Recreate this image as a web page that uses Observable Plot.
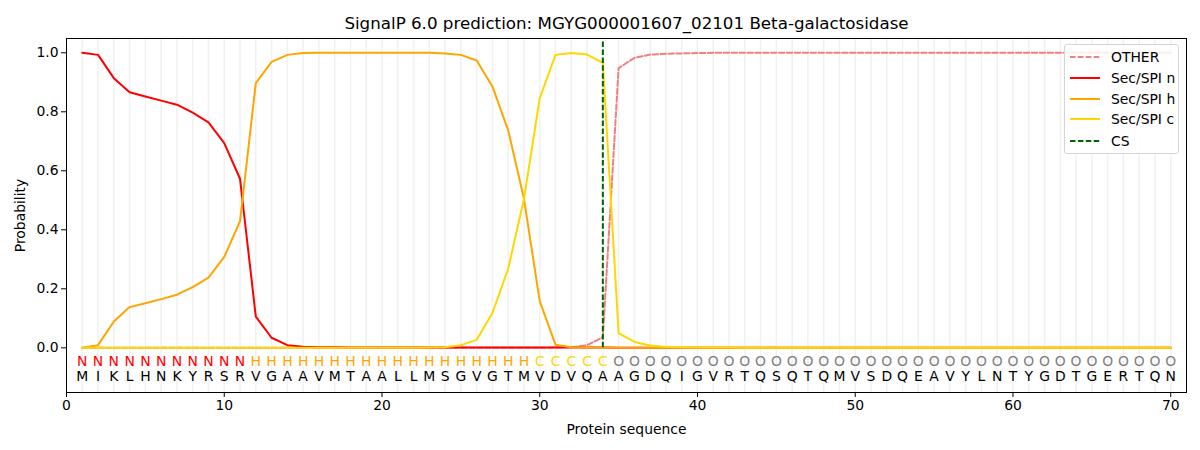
<!DOCTYPE html>
<html>
<head>
<meta charset="utf-8">
<script src="https://cdn.jsdelivr.net/npm/d3@7"></script>
<script src="https://cdn.jsdelivr.net/npm/@observablehq/plot@0.6"></script>
<style>
  body { margin: 0; background: white; font-family: "DejaVu Sans", sans-serif; }
  #wrap { position: relative; width: 1200px; height: 450px; }
  #legend { position: absolute; left: 1064px; top: 44px; width: 113px; height: 108px;
    border: 1px solid #d5d5d5; border-radius: 3px; background: rgba(255,255,255,0.85); }
  .lrow { position: absolute; left: 0; height: 20px; display: flex; align-items: center; font-size: 13.9px; color: black; }
  .lrow svg { margin-left: 5px; margin-right: 11px; }
</style>
</head>
<body>
<div id="wrap"></div>
<script>
const title = "SignalP 6.0 prediction: MGYG000001607_02101 Beta-galactosidase";
const residues = "MIKLHNKYRSRVGAAVMTAALLMSGVGTMVDVQAAGDQIGVRTQSQTQMVSDQEAVYLNTYGDTGERTQN".split("");
const regions = ("N".repeat(11) + "H".repeat(18) + "C".repeat(5) + "O".repeat(36)).split("");
const positions = d3.range(1, 71);

const other = [0,0,0,0,0,0,0,0,0,0, 0,0,0,0,0,0,0,0,0,0, 0,0,0,0,0,0,0,0,0,0,
  0.001,0.002,0.009,0.036,0.948,0.983,0.994,0.997,0.998,0.999,
  1,1,1,1,1,1,1,1,1,1, 1,1,1,1,1,1,1,1,1,1, 1,1,1,1,1,1,1,1,1,1];
const secN = [1.0,0.993,0.914,0.866,0.852,0.838,0.824,0.797,0.764,0.694,
  0.573,0.106,0.034,0.009,0.004,0.002,0.002,0.001,0.001,0.001,
  0.001,0.001,0.001,0.001,0.001,0.001,0.001,0.001,0.001,0.001,
  0.001,0.001,0.001,0.001,0,0,0,0,0,0, 0,0,0,0,0,0,0,0,0,0, 0,0,0,0,0,0,0,0,0,0, 0,0,0,0,0,0,0,0,0,0];
const secH = [0,0.009,0.089,0.138,0.151,0.165,0.18,0.206,0.238,0.308,
  0.429,0.897,0.969,0.993,0.999,1.0,1.0,1.0,1.0,1.0,
  1.0,1.0,1.0,0.998,0.993,0.974,0.886,0.737,0.505,0.158,
  0.01,0.002,0.001,0.001,0,0,0,0,0,0, 0,0,0,0,0,0,0,0,0,0, 0,0,0,0,0,0,0,0,0,0, 0,0,0,0,0,0,0,0,0,0];
const secC = [0,0,0,0,0,0,0,0,0,0, 0,0,0,0,0,0,0,0,0,0,
  0,0,0.001,0.002,0.009,0.027,0.118,0.268,0.505,0.846,
  0.993,0.999,0.994,0.966,0.05,0.02,0.008,0.003,0.002,0.001,
  0.001,0.001,0,0,0,0,0,0,0,0, 0,0,0,0,0,0,0,0,0,0, 0,0,0,0,0,0,0,0,0,0];
const csPos = [34];
const xTicks = [0,10,20,30,40,50,60,70];
const yTicks = [0,0.2,0.4,0.6,0.8,1.0];

const seriesNames = ["OTHER","Sec/SPI n","Sec/SPI h","Sec/SPI c","CS"];
const seriesColors = ["#f08080","#ff0000","#ffa500","#ffd700","#006400"];
const seriesDashed = [true,false,false,false,true];
const regionColors = {N:"#ff0000", H:"#ffa500", C:"#ffd700", O:"#808080"};

const font = "DejaVu Sans";
const line = (vals, i) => Plot.lineY(vals, {x: (d, j) => positions[j], y: d => d,
  stroke: seriesColors[i], strokeWidth: 2, strokeDasharray: seriesDashed[i] ? "5.5,2.4" : null});

const chart = Plot.plot({
  width: 1200, height: 450,
  marginLeft: 66, marginRight: 14, marginTop: 38, marginBottom: 58,
  style: {fontFamily: font, fontSize: "13.9px", color: "black", background: "white", overflow: "visible"},
  x: {domain: [0, 71]},
  y: {domain: [-0.1515, 1.0485]},
  marks: [
    Plot.ruleX(positions, {x: d => d, stroke: "#f1f1f1", strokeWidth: 1.5}),
    line(other, 0),
    line(secN, 1),
    line(secH, 2),
    line(secC, 3),
    Plot.ruleX(csPos, {x: d => d, y1: 0, y2: 1.04, stroke: seriesColors[4], strokeWidth: 2, strokeDasharray: "5.5,2.4"}),
    Plot.text(regions, {x: (d, j) => positions[j], y: -0.047, text: d => d, fill: d => regionColors[d], fontSize: 13.9}),
    Plot.text(residues, {x: (d, j) => positions[j], y: -0.099, text: d => d, fill: "black", fontSize: 13.9}),
    Plot.axisX({ticks: xTicks, tickSize: 5, tickPadding: 3, label: "Protein sequence", labelAnchor: "center", labelArrow: "none", labelOffset: 41}),
    Plot.axisY({ticks: yTicks, tickSize: 5, tickPadding: 3, tickFormat: d3.format(".1f"), label: "Probability", labelAnchor: "center", labelArrow: "none", labelOffset: 51}),
    Plot.frame({stroke: "black", strokeWidth: 1}),
    Plot.text([title], {frameAnchor: "top", lineAnchor: "middle", dy: -15, text: d => d, fontSize: 16.7, fill: "black"})
  ]
});
const wrap = document.getElementById("wrap");
wrap.appendChild(chart);

const legend = document.createElement("div");
legend.id = "legend";
const rowTops = [1.5, 22.5, 43.5, 64, 85.5];
seriesNames.forEach((name, i) => {
  const row = document.createElement("div");
  row.className = "lrow";
  row.style.top = rowTops[i] + "px";
  const dash = seriesDashed[i] ? ' stroke-dasharray="5.5,2.4"' : '';
  row.innerHTML = `<svg width="30" height="6"><line x1="0" y1="3" x2="30" y2="3" stroke="${seriesColors[i]}" stroke-width="2"${dash}/></svg><span>${name}</span>`;
  legend.appendChild(row);
});
wrap.appendChild(legend);
</script>
</body>
</html>
